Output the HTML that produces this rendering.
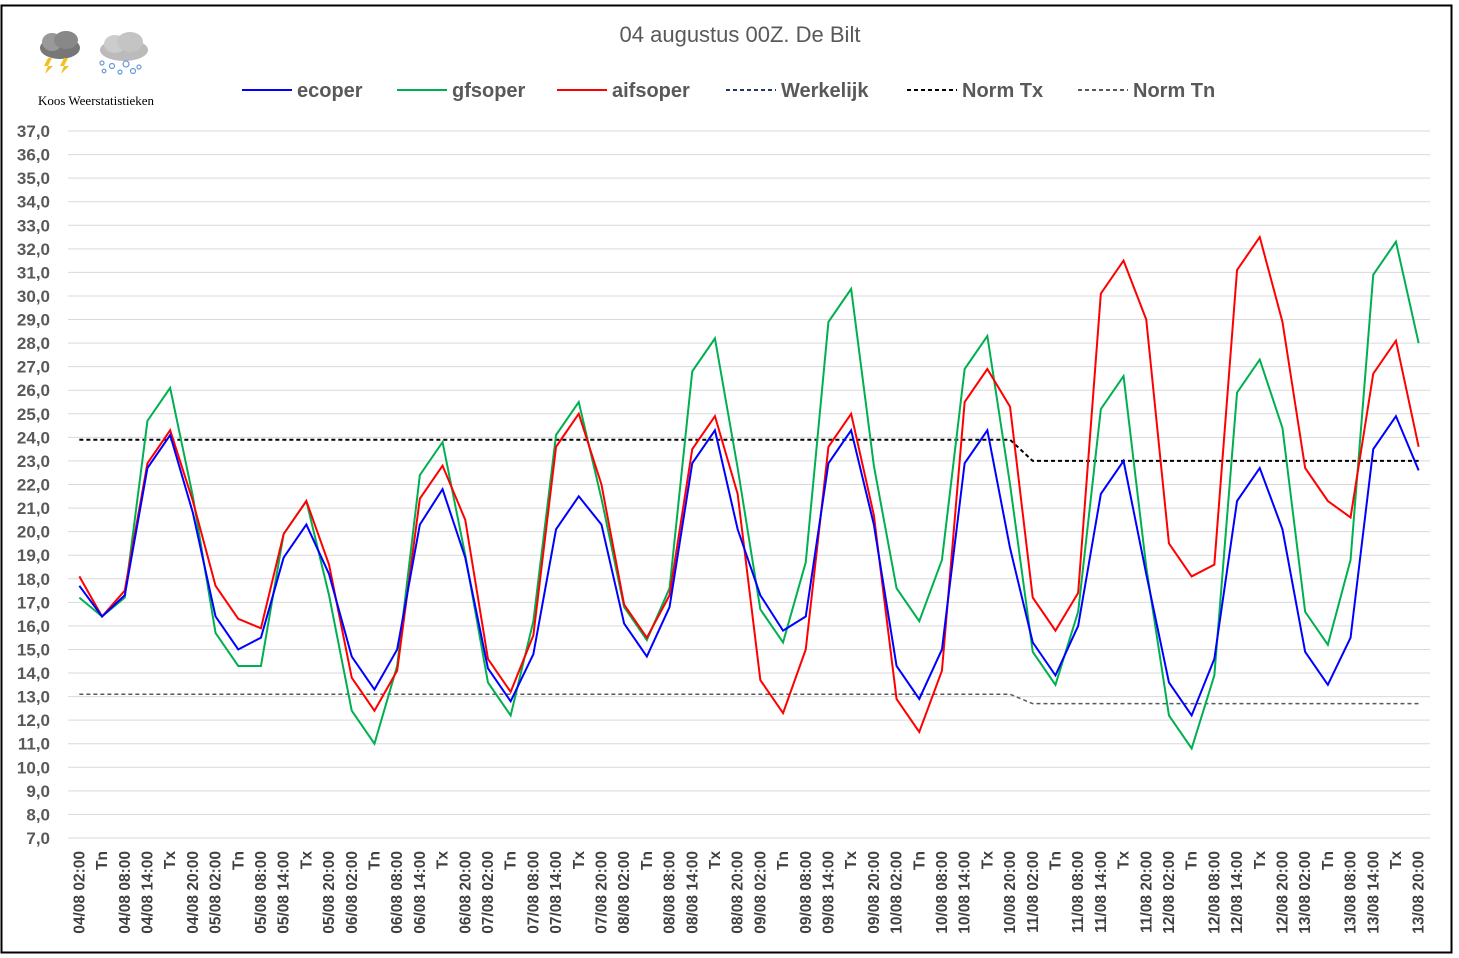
<!DOCTYPE html>
<html><head><meta charset="utf-8"><style>
body{margin:0;background:#fff;}
svg{display:block;font-family:"Liberation Sans",sans-serif;}
</style></head><body>
<svg id="c" width="1459" height="958">
<rect x="1.5" y="5.5" width="1450" height="947" fill="#fff" stroke="#000" stroke-width="2"/>
<text x="740" y="42" text-anchor="middle" font-size="22" fill="#595959">04 augustus 00Z. De Bilt</text>
<g>
<ellipse cx="60" cy="48" rx="20" ry="11" fill="#777"/><ellipse cx="52" cy="42" rx="10" ry="9" fill="#999"/><ellipse cx="66" cy="40" rx="12" ry="9" fill="#888"/>
<polygon points="48,58 52,58 48,66 53,66 45,74 48,66 44,66" fill="#f0c020"/><polygon points="64,58 68,58 64,66 69,66 61,74 64,66 60,66" fill="#f0c020"/>
<ellipse cx="124" cy="50" rx="24" ry="11" fill="#bbb"/><ellipse cx="115" cy="44" rx="11" ry="9" fill="#ccc"/><ellipse cx="130" cy="42" rx="13" ry="10" fill="#c4c4c4"/>
<g fill="none" stroke="#6a9ad8" stroke-width="1.2"><circle cx="102" cy="63" r="2"/><circle cx="112" cy="66" r="2.5"/><circle cx="126" cy="64" r="3"/><circle cx="139" cy="67" r="2"/><circle cx="104" cy="71" r="1.8"/><circle cx="120" cy="72" r="2"/><circle cx="133" cy="71" r="2.5"/></g>
<text x="96" y="105" text-anchor="middle" font-family="Liberation Serif,serif" font-size="13" fill="#000">Koos Weerstatistieken</text>
</g>
<g id="legend"></g>
<g id="grid"></g><g id="series"></g><g id="xl"></g>
</svg>
<script>
const categories=[];
const days=["04","05","06","07","08","09","10","11","12","13"];
days.forEach(d=>{categories.push(d+"/08 02:00","Tn",d+"/08 08:00",d+"/08 14:00","Tx",d+"/08 20:00");});
const ecoper=[17.7,16.4,17.3,22.7,24.1,20.8,16.4,15.0,15.5,18.9,20.3,18.2,14.7,13.3,15.0,20.3,21.8,18.9,14.2,12.8,14.8,20.1,21.5,20.3,16.1,14.7,16.8,22.9,24.3,20.1,17.3,15.8,16.4,22.9,24.3,20.3,14.3,12.9,15.0,22.9,24.3,19.3,15.3,13.9,16.0,21.6,23.0,18.2,13.6,12.2,14.6,21.3,22.7,20.1,14.9,13.5,15.5,23.5,24.9,22.6];
const gfsoper=[17.2,16.4,17.2,24.7,26.1,21.5,15.7,14.3,14.3,19.9,21.3,17.3,12.4,11.0,14.3,22.4,23.8,19.0,13.6,12.2,16.2,24.1,25.5,21.4,16.8,15.4,17.6,26.8,28.2,22.7,16.7,15.3,18.7,28.9,30.3,22.8,17.6,16.2,18.8,26.9,28.3,22.0,14.9,13.5,16.6,25.2,26.6,18.5,12.2,10.8,13.9,25.9,27.3,24.4,16.6,15.2,18.8,30.9,32.3,28.0];
const aifsoper=[18.1,16.4,17.5,22.9,24.3,21.3,17.7,16.3,15.9,19.9,21.3,18.6,13.8,12.4,14.1,21.4,22.8,20.5,14.6,13.2,15.6,23.6,25.0,22.0,16.9,15.5,17.3,23.5,24.9,21.6,13.7,12.3,15.0,23.6,25.0,20.7,12.9,11.5,14.1,25.5,26.9,25.3,17.2,15.8,17.4,30.1,31.5,29.0,19.5,18.1,18.6,31.1,32.5,28.9,22.7,21.3,20.6,26.7,28.1,23.6];
const normTx=categories.map((c,i)=>i<42?23.9:23.0);
const normTn=categories.map((c,i)=>i<42?13.1:12.7);
const yTicks=[];for(let v=7;v<=37;v++)yTicks.push(v);
const NS="http://www.w3.org/2000/svg";
const X0=68,X1=1430,Y0=838,Y1=131,YMIN=7,YMAX=37;
const step=(X1-X0)/categories.length;
const xs=i=>X0+step*(i+0.5);
const ys=v=>Y0-(v-YMIN)/(YMAX-YMIN)*(Y0-Y1);
function mk(t,a,p){const e=document.createElementNS(NS,t);for(const k in a)e.setAttribute(k,a[k]);p.appendChild(e);return e;}
const grid=document.getElementById('grid');
yTicks.forEach(v=>{
 const l=mk('line',{x1:X0,x2:X1,y1:ys(v),y2:ys(v),stroke:'#d9d9d9','stroke-width':1},grid);
 
 
 const t=mk('text',{x:50,y:ys(v)+6,'text-anchor':'end','font-size':17,'font-weight':'bold',fill:'#595959'},grid);
 t.textContent=v.toFixed(1).replace('.',',');
 
 
});
const xl=document.getElementById('xl');
categories.forEach((c,i)=>{
 const x=xs(i)+5,y=851;
 const t=mk('text',{x:x,y:y,transform:`rotate(-90 ${x} ${y})`,'text-anchor':'end','font-size':15.5,'font-weight':'bold',fill:'#404040'},xl);
 t.textContent=c;
 
 
});
const ser=document.getElementById('series');
function line(arr,col,dash,name,w){
 const p=mk('polyline',{points:arr.map((v,i)=>xs(i)+','+ys(v)).join(' '),fill:'none',stroke:col,'stroke-width':w,'stroke-dasharray':dash||'none'},ser);
 
 
}
line(normTn,'#595959','4,3','norm-tn-line',1.5);
line(normTx,'#000','4,3','norm-tx-line',2);
line(gfsoper,'#00b050','','gfsoper-line',2);
line(aifsoper,'#ff0000','','aifsoper-line',2);
line(ecoper,'#0000ff','','ecoper-line',2);
const leg=document.getElementById('legend');
const items=[["ecoper","#0000ff","",242],["gfsoper","#00b050","",397],["aifsoper","#ff0000","",557],["Werkelijk","#1f3864","4,3",726],["Norm Tx","#000","4,3",907],["Norm Tn","#595959","4,3",1078]];
items.forEach(it=>{
 const g=mk('g',{},leg);
 
 
 mk('line',{x1:it[3],x2:it[3]+50,y1:90,y2:90,stroke:it[1],'stroke-width':2,'stroke-dasharray':it[2]||'none'},g);
 const t=mk('text',{x:it[3]+55,y:97,'font-size':20,'font-weight':'bold',fill:'#595959'},g);
 t.textContent=it[0];
});
</script>
</body></html>
